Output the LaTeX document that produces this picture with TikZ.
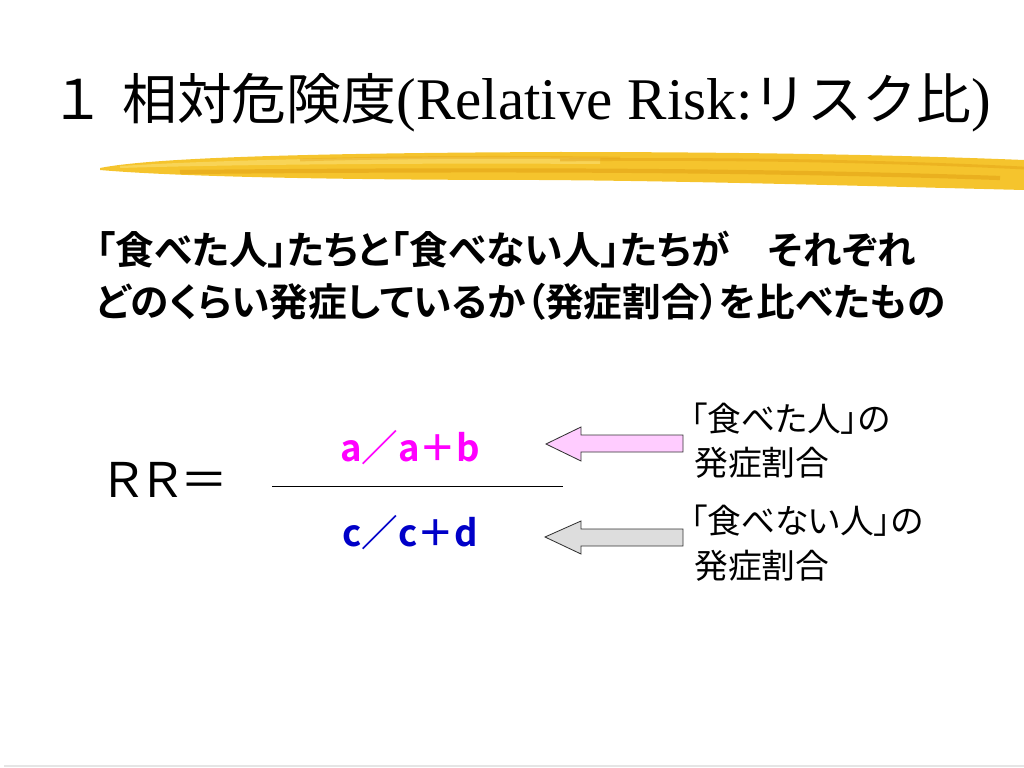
\documentclass[tikz,border=0pt]{standalone}
\usepackage{fontspec}
\setmainfont{Liberation Serif}
\newfontfamily\jp{Noto Sans CJK JP}
\newfontfamily\jpp[RawFeature=+palt]{Noto Sans CJK JP}
\newfontfamily\jpb{Noto Sans CJK JP Bold}
\newfontfamily\jppb[RawFeature=+palt]{Noto Sans CJK JP Bold}
\usepackage{xcolor}
\usepackage{tikz}
\usetikzlibrary{positioning}

\definecolor{brushgold}{RGB}{245,196,45}
\definecolor{brushdeep}{RGB}{228,163,22}
\definecolor{brushpale}{RGB}{250,220,105}
\definecolor{fracpink}{RGB}{255,0,255}
\definecolor{fracblue}{RGB}{0,0,200}
\definecolor{arrpink}{RGB}{255,204,255}
\definecolor{arrgray}{RGB}{221,221,221}

\begin{document}
\begin{tikzpicture}[
    x=0.025cm, y=-0.025cm,
    heading/.style={anchor=base west, inner sep=0pt,
                    font=\jp\fontsize{39}{39}\selectfont},
    lead/.style={anchor=base west, inner sep=0pt,
                 font=\jppb\fontsize{27.5}{27.5}\selectfont},
    ratio/.style={anchor=base, inner sep=0pt,
                  font=\jpb\fontsize{26}{26}\selectfont},
    note/.style={anchor=base west, inner sep=0pt,
                 font=\jpp\fontsize{24}{24}\selectfont},
    blockarrow/.style={draw=black!80, line width=0.6pt, line join=miter}
  ]

  \useasboundingbox (0,0) rectangle (1024,768);

  % title
  \node[heading] (titlenum) at (50,120) {１};
  \node[heading] (title) at (122,120)
    {相対危険度{\rmfamily\fontsize{42}{42}\selectfont (Relative Risk:}リスク比{\rmfamily\fontsize{42}{42}\selectfont )}};

  % brush stroke
  \fill[brushgold] (100,168) .. controls (150,158) and (300,153) .. (560,152)
    .. controls (800,152) and (950,157) .. (1024,160) -- (1024,190)
    .. controls (900,187) and (700,181) .. (540,180)
    .. controls (350,180) and (180,177) .. (100,170) -- cycle;
  \fill[brushpale, opacity=0.7] (120,166) .. controls (250,158) and (450,156) .. (600,158)
    -- (600,164) .. controls (450,163) and (250,164) .. (120,168) -- cycle;
  \draw[brushdeep, opacity=0.6, line width=3pt] (180,172) .. controls (400,170) and (700,168) .. (1000,178);
  \draw[brushdeep, opacity=0.5, line width=2pt] (560,160) .. controls (750,158) and (900,162) .. (1024,168);
  \draw[brushdeep, opacity=0.4, line width=2pt] (300,160) .. controls (400,157) and (500,157) .. (620,158);

  % lead text
  \node[lead] (lead1) at (96,264) {「食べた人」たちと「食べない人」たちが　それぞれ};
  \node[lead] (lead2) at (96,316) {どのくらい発症しているか（発症割合）を比べたもの};

  % ratio
  \node[anchor=base west, inner sep=0pt, font=\jpp\fontsize{34}{34}\selectfont] (rr) at (104,497) {ＲＲ＝};
  \coordinate (barL) at (272,486);
  \coordinate (barR) at (563,486);
  \draw[line width=0.6pt] (barL) -- (barR);
  \node[ratio, text=fracpink] (num) at (410,461) {a／a＋b};
  \node[ratio, text=fracblue] (den) at (410,546) {c／c＋d};

  % arrows
  \coordinate (tipA) at (546,444);
  \coordinate (tipB) at (545,537);
  \draw[blockarrow, fill=arrpink] (tipA) -- ++(35,-17) -- ++(0,8) -- ++(102,0)
    -- ++(0,17) -- ++(-102,0) -- ++(0,9) -- cycle;
  \draw[blockarrow, fill=arrgray] (tipB) -- ++(36,-16) -- ++(0,8) -- ++(102,0)
    -- ++(0,17) -- ++(-102,0) -- ++(0,8) -- cycle;

  % notes
  \node[note] (ate1) at (690,431) {「食べた人」の};
  \node[note] (ate2) at (694,475) {発症割合};
  \node[note] (not1) at (690,533) {「食べない人」の};
  \node[note] (not2) at (694,578) {発症割合};

  % footer rule
  \draw[black!10, line width=0.8pt] (4,766) -- (1024,766);
\end{tikzpicture}
\end{document}
